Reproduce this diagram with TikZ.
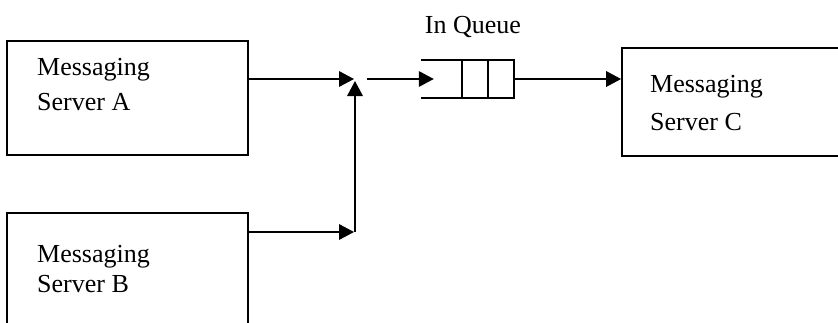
\documentclass[tikz,border=0pt]{standalone}
\usepackage{fontspec}
\setmainfont{Liberation Serif}
\usetikzlibrary{arrows.meta}
\begin{document}
\begin{tikzpicture}[x=1pt,y=-1pt,
  box/.style={draw,line width=1.8pt,rectangle,inner sep=0pt},
  lbl/.style={anchor=base west,inner sep=0pt,font=\fontsize{26}{30}\selectfont},
  arr/.style={line width=1.8pt,-{Triangle[length=15pt,width=15.5pt]}},
  qline/.style={line width=1.8pt}]
\useasboundingbox (0,0) rectangle (838,322);
\clip (0,0) rectangle (838,322);
% boxes
\node[box,minimum width=241pt,minimum height=114pt] (A) at (127.5,98) {};
\node[box,minimum width=241pt,minimum height=127pt] (B) at (127.5,276.5) {};
\node[box,minimum width=228pt,minimum height=108pt] (C) at (736,102) {};
% labels
\node[lbl] (A1) at (37,75) {Messaging};
\node[lbl] (A2) at (37,110) {Server A};
\node[lbl] (B1) at (37,262) {Messaging};
\node[lbl] (B2) at (37,292) {Server B};
\node[lbl] (C1) at (650,92) {Messaging};
\node[lbl] (C2) at (650,130) {Server C};
% queue
\node[inner sep=0pt,minimum width=93pt,minimum height=38pt] (Q) at (467.5,79) {};
\draw[qline] (Q.north west) -- (Q.north east) -- (Q.south east) -- (Q.south west);
\draw[qline] ([xshift=41pt]Q.north west) -- ([xshift=41pt]Q.south west);
\draw[qline] ([xshift=67pt]Q.north west) -- ([xshift=67pt]Q.south west);
\node[anchor=base,inner sep=0pt,font=\fontsize{26}{30}\selectfont] (QL) at (473,33) {In Queue};
% junction
\coordinate (J) at (354,79);
\coordinate (JV) at (355,81);
\coordinate (K) at (354,232);
\coordinate (KV) at (355,232);
\coordinate (J2) at (367,79);
\draw[arr] (A.east |- J) -- (J);
\draw[arr] (B.east |- K) -- (K);
\draw[arr] (KV) -- (JV);
\draw[arr] (J2) -- ([xshift=13pt]Q.west);
\draw[arr] (Q.east) -- (C.west |- Q.east);
\end{tikzpicture}
\end{document}
